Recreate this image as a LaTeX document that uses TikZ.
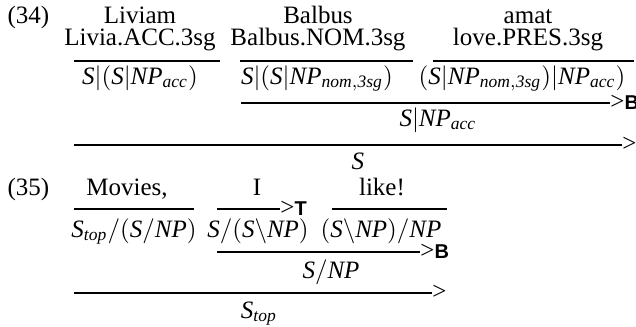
\documentclass[tikz,border=0pt]{standalone}
\usepackage{fontspec}
\setmainfont{Liberation Serif}
\setsansfont{Liberation Sans}
\newcommand{\cS}{\mathit{S}}
\newcommand{\cNP}{\mathit{NP}}
\newcommand{\sub}[1]{_{\mathit{#1}}}
\newcommand{\combname}[1]{\textgreater\textsf{\bfseries\footnotesize #1}}

\begin{document}
\begin{tikzpicture}[x=0.4pt,y=-0.4pt,
  txt/.style={anchor=base,inner sep=0pt},
  dline/.style={line width=0.55pt},
  combo/.style={anchor=base west,inner sep=0pt,yshift=-2.4pt}]
\path[use as bounding box] (0,0) rectangle (636,327);
% (34)
\node[txt,anchor=base west] (n34) at (7,23) {(34)};
\node[txt] (w1) at (140,23) {Liviam};
\node[txt] (g1) at (140,45) {Livia.ACC.3sg};
\node[txt] (w2) at (318,23) {Balbus};
\node[txt] (g2) at (318,45) {Balbus.NOM.3sg};
\node[txt] (w3) at (528,23) {amat};
\node[txt] (g3) at (528,45) {love.PRES.3sg};
\coordinate (l1a) at (74,61);  \coordinate (l1b) at (220,61);
\coordinate (l2a) at (240,61); \coordinate (l2b) at (413,61);
\coordinate (l3a) at (433,61); \coordinate (l3b) at (634,61);
\draw[dline] (l1a) -- (l1b);
\draw[dline] (l2a) -- (l2b);
\draw[dline] (l3a) -- (l3b);
\node[txt] (c1) at (140,84) {$\cS|(\cS|\cNP\sub{acc})$};
\node[txt] (c2) at (317,84) {$\cS|(\cS|\cNP\sub{nom,3sg})$};
\node[txt] (c3) at (522,84) {$(\cS|\cNP\sub{nom,3sg})|\cNP\sub{acc})$};
\coordinate (r1a) at (241,103); \coordinate (r1b) at (610,103);
\draw[dline] (r1a) -- (r1b);
\node[combo] (r1n) at (r1b) {\combname{B}};
\node[txt] (c4) at (438,126) {$\cS|\cNP\sub{acc}$};
\coordinate (r2a) at (74,145); \coordinate (r2b) at (622,145);
\draw[dline] (r2a) -- (r2b);
\node[combo] (r2n) at (r2b) {\textgreater};
\node[txt] (c5) at (358,169) {$\cS$};
% (35)
\node[txt,anchor=base west] (n35) at (7,195) {(35)};
\node[txt] (w4) at (127,195) {Movies,};
\node[txt] (w5) at (257,195) {I};
\node[txt] (w6) at (382,195) {like!};
\coordinate (l4a) at (74,209);  \coordinate (l4b) at (194,209);
\coordinate (l5a) at (217,209); \coordinate (l5b) at (280,209);
\coordinate (l6a) at (332,209); \coordinate (l6b) at (447,209);
\draw[dline] (l4a) -- (l4b);
\draw[dline] (l5a) -- (l5b);
\node[combo] (l5n) at (l5b) {\combname{T}};
\draw[dline] (l6a) -- (l6b);
\node[txt] (c6) at (134,237) {$\cS\sub{top}/(\cS/\cNP)$};
\node[txt] (c7) at (258,237) {$\cS/(\cS\backslash\cNP)$};
\node[txt] (c8) at (381,237) {$(\cS\backslash\cNP)/\cNP$};
\coordinate (r3a) at (217,252); \coordinate (r3b) at (420,252);
\draw[dline] (r3a) -- (r3b);
\node[combo] (r3n) at (r3b) {\combname{B}};
\node[txt] (c9) at (331,278) {$\cS/\cNP$};
\coordinate (r4a) at (74,293); \coordinate (r4b) at (432,293);
\draw[dline] (r4a) -- (r4b);
\node[combo] (r4n) at (r4b) {\textgreater};
\node[txt] (c10) at (259,318) {$\cS\sub{top}$};
\end{tikzpicture}
\end{document}
